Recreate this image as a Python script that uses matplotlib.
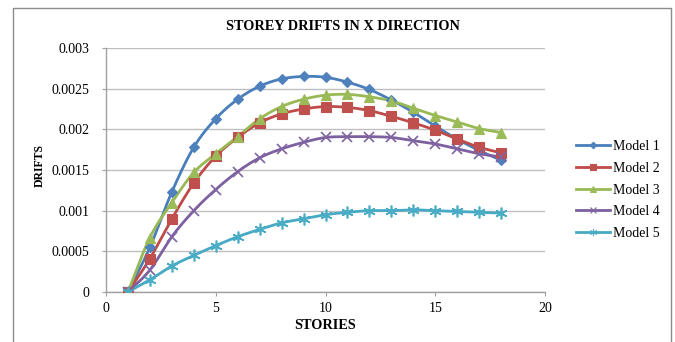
import numpy as np
import matplotlib
matplotlib.use("Agg")
import matplotlib.pyplot as plt
from matplotlib.patches import Rectangle
from matplotlib.ticker import FuncFormatter

stories = [1, 2, 3, 4, 5, 6, 7, 8, 9, 10, 11, 12, 13, 14, 15, 16, 17, 18]
model1 = [0, 0.00055, 0.00123, 0.00178, 0.00213, 0.00237, 0.00253, 0.00262, 0.00265, 0.00264,
          0.00258, 0.00249, 0.00236, 0.00221, 0.00204, 0.00188, 0.00174, 0.00162]
model2 = [0, 0.00041, 0.00090, 0.00134, 0.00167, 0.00190, 0.00208, 0.00219, 0.00225, 0.00228,
          0.00227, 0.00223, 0.00216, 0.00208, 0.00199, 0.00188, 0.00178, 0.00171]
model3 = [0, 0.00067, 0.00110, 0.00147, 0.00170, 0.00191, 0.00213, 0.00228, 0.00237, 0.00242,
          0.00243, 0.00240, 0.00235, 0.00226, 0.00217, 0.00209, 0.00201, 0.00196]
model4 = [0, 0.00027, 0.00068, 0.00100, 0.00126, 0.00148, 0.00165, 0.00176, 0.00184, 0.00190,
          0.00191, 0.00191, 0.00190, 0.00186, 0.00182, 0.00176, 0.00170, 0.00166]
model5 = [0, 0.00015, 0.00032, 0.00045, 0.00057, 0.00068, 0.00077, 0.00085, 0.00090, 0.00095,
          0.00098, 0.00100, 0.00100, 0.00101, 0.00100, 0.00099, 0.00098, 0.00097]
labels = ["Model 1", "Model 2", "Model 3", "Model 4", "Model 5"]

line_colors = ["#4A7EBB", "#BE4B48", "#98B954", "#7D60A0", "#46AAC5"]
marker_colors = ["#4F81BD", "#C0504D", "#9BBB59", "#8064A2", "#4BACC6"]
markers = ["D", "s", "^", "x", (6, 2, 0)]
msizes = [5.5, 6.5, 7, 7.5, 8.5]

plt.rcParams['font.family'] = ['Liberation Serif', 'DejaVu Serif']


def smooth(x, y, n=20):
    # Catmull-Rom style smoothing for drawing the connecting curve
    x = np.asarray(x, float)
    y = np.asarray(y, float)
    px = np.concatenate([[2 * x[0] - x[1]], x, [2 * x[-1] - x[-2]]])
    py = np.concatenate([[2 * y[0] - y[1]], y, [2 * y[-1] - y[-2]]])
    xs, ys = [], []
    t = np.linspace(0, 1, n, endpoint=False)
    for i in range(1, len(px) - 2):
        p0, p1, p2, p3 = px[i - 1], px[i], px[i + 1], px[i + 2]
        q0, q1, q2, q3 = py[i - 1], py[i], py[i + 1], py[i + 2]
        for a, b, c, d, out in ((p0, p1, p2, p3, xs), (q0, q1, q2, q3, ys)):
            out.append(0.5 * ((2 * b) + (-a + c) * t + (2 * a - 5 * b + 4 * c - d) * t ** 2
                              + (-a + 3 * b - 3 * c + d) * t ** 3))
    xs.append([x[-1]])
    ys.append([y[-1]])
    return np.concatenate(xs), np.concatenate(ys)


fig = plt.figure(figsize=(6.75, 3.42), dpi=100)
ax = fig.add_axes([106 / 675, 1 - 292 / 342, (545 - 106) / 675, (292 - 48) / 342])

series = [model1, model2, model3, model4, model5]
handles = []
for vals, lc, mc, mk, ms, lab in zip(series, line_colors, marker_colors, markers, msizes, labels):
    thin = mk == 'x' or isinstance(mk, tuple)
    sx, sy = smooth(stories, vals)
    ax.plot(sx, sy, color=lc, lw=2.0, zorder=3, solid_capstyle='round')
    ax.plot(stories, vals, linestyle='none', marker=mk, ms=ms, color=mc,
            markeredgecolor=mc, markeredgewidth=1.2 if thin else 0.8, zorder=4)
    h, = ax.plot([], [], color=lc, lw=2.0, marker=mk, ms=ms * 0.6, markerfacecolor=mc,
                 markeredgecolor=mc, markeredgewidth=0.8, label=lab)
    handles.append(h)

ax.set_xlim(0, 20)
ax.set_ylim(0, 0.003)
ax.set_xticks([0, 5, 10, 15, 20])
ax.set_yticks([0, 0.0005, 0.001, 0.0015, 0.002, 0.0025, 0.003])
ax.yaxis.set_major_formatter(FuncFormatter(lambda v, p: "%g" % v))
ax.grid(axis='y', color='#BFBFBF', lw=1.0)
ax.set_axisbelow(True)
for s in ('top', 'right'):
    ax.spines[s].set_visible(False)
for s in ('left', 'bottom'):
    ax.spines[s].set_color('#A0A0A0')
    ax.spines[s].set_linewidth(1.0)
ax.tick_params(axis='both', colors='#A0A0A0', labelcolor='black', labelsize=10, length=3)
ax.tick_params(axis='y', pad=9)
ax.tick_params(axis='x', pad=4)

ax.set_xlabel("STORIES", fontsize=10.3, fontweight='bold', labelpad=3)
ax.set_ylabel("DRIFTS", fontsize=8.5, fontweight='bold')
ax.yaxis.set_label_coords(-0.137, 0.52)
fig.text(343 / 675, 1 - 26 / 342, "STOREY DRIFTS IN X DIRECTION", ha='center', va='center',
         fontsize=10.3, fontweight='bold')

leg = fig.legend(handles=handles, loc='center left', bbox_to_anchor=(570 / 675, 1 - 190 / 342),
                 frameon=False, fontsize=10, handlelength=2.5, handletextpad=0.2,
                 labelspacing=0.62, borderaxespad=0)

fig.patches.append(Rectangle((13 / 675, -0.1), (671 - 13) / 675, 1.1 - 8 / 342,
                             transform=fig.transFigure, fill=False, edgecolor='#8C8C8C',
                             lw=1.0))

fig.savefig("out.png", dpi=100)
